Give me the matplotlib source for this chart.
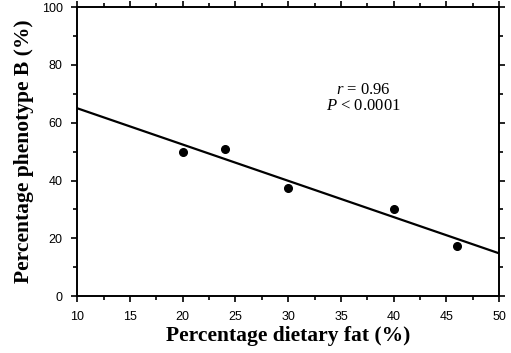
import numpy as np
import matplotlib.pyplot as plt
from matplotlib.ticker import MultipleLocator

plt.rcParams['font.family'] = 'Liberation Sans'
plt.rcParams['mathtext.fontset'] = 'custom'
plt.rcParams['mathtext.rm'] = 'Liberation Serif'
plt.rcParams['mathtext.it'] = 'Liberation Serif:italic'

# Données
graisse = [20, 24, 30, 40, 46]
phenotype_b = [50, 51, 37.5, 30.3, 17.3]

# Droite de régression (extrémités lues)
droite_x = [10, 50]
droite_y = [65.0, 14.8]

fig = plt.figure(figsize=(5.11, 3.53), dpi=100)
ax = fig.add_axes([0.151, 0.161, 0.826, 0.819])

ax.plot(droite_x, droite_y, color='black', linewidth=1.6)
ax.plot(graisse, phenotype_b, 'o', color='black', markersize=5.5)

ax.set_xlim(10, 50)
ax.set_ylim(0, 100)
ax.xaxis.set_major_locator(MultipleLocator(5))
ax.xaxis.set_minor_locator(MultipleLocator(2.5))
ax.yaxis.set_major_locator(MultipleLocator(20))
ax.yaxis.set_minor_locator(MultipleLocator(10))
ax.tick_params(which='both', direction='out', top=True, right=True, width=1.2)
ax.tick_params(which='major', length=4.5, labelsize=9, pad=6)
ax.tick_params(which='minor', length=3)
for s in ax.spines.values():
    s.set_linewidth(1.4)

police = {'family': 'Liberation Serif', 'weight': 'bold', 'size': 15.5}
ax.set_xlabel('Percentage dietary fat (%)', fontdict=police, labelpad=2)
ax.set_ylabel('Percentage phenotype B (%)', fontdict=police, labelpad=5.5)

ax.text(0.678, 0.685, '$r$ = 0.96\n$P$ < 0.0001', transform=ax.transAxes,
        ha='center', va='center', fontsize=12, family='Liberation Serif',
        linespacing=1.05)

fig.savefig('out.png', dpi=100)
